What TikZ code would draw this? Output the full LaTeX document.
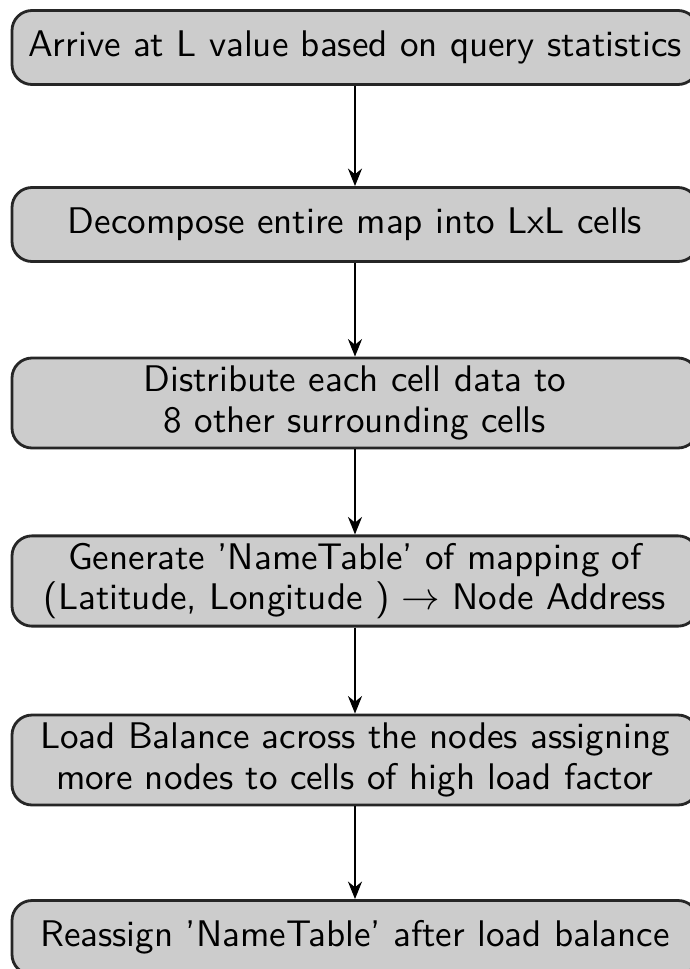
\documentclass[tikz,border=0pt]{standalone}
\usepackage{tikz}
\usetikzlibrary{shapes}
\usetikzlibrary{positioning}
\usetikzlibrary{arrows.meta}
\tikzset{
    stepbox/.style = {rectangle, rounded corners=0.2cm, thick, draw=black!85, fill=gray!40,
                      minimum width=6.86cm, minimum height=0.74cm, inner sep=2pt, align=center,
                      font=\sffamily\fontsize{10.55}{11.6}\selectfont},
    stepboxt/.style = {stepbox, minimum height=0.9cm},
    edgen/.style = {-{Stealth[length=5pt,width=4pt]}, thin, black},
}
\begin{document}
\begin{tikzpicture}
\useasboundingbox (0,0) rectangle (6.89,-9.69);
%
\node[stepbox]  at (3.55,-0.475) (stat)  {Arrive at L value based on query statistics};
\node[stepbox]  at (3.55,-2.245) (grid)  {Decompose entire map into LxL cells};
\node[stepboxt] at (3.55,-4.03)  (dist)  {Distribute each cell data to\\8 other surrounding cells};
\node[stepboxt] at (3.55,-5.81)  (table) {Generate 'NameTable' of mapping of\\(Latitude, Longitude ) $\rightarrow$ Node Address};
\node[stepboxt] at (3.55,-7.60)  (load)  {Load Balance across the nodes assigning\\more nodes to cells of high load factor};
\node[stepbox]  at (3.55,-9.375) (again) {Reassign 'NameTable' after load balance};
%
\draw[edgen] (stat) edge (grid);
\draw[edgen] (grid) edge (dist);
\draw[edgen] (dist) edge (table);
\draw[edgen] (table) edge (load);
\draw[edgen] (load) edge (again);

\end{tikzpicture}
\end{document}
